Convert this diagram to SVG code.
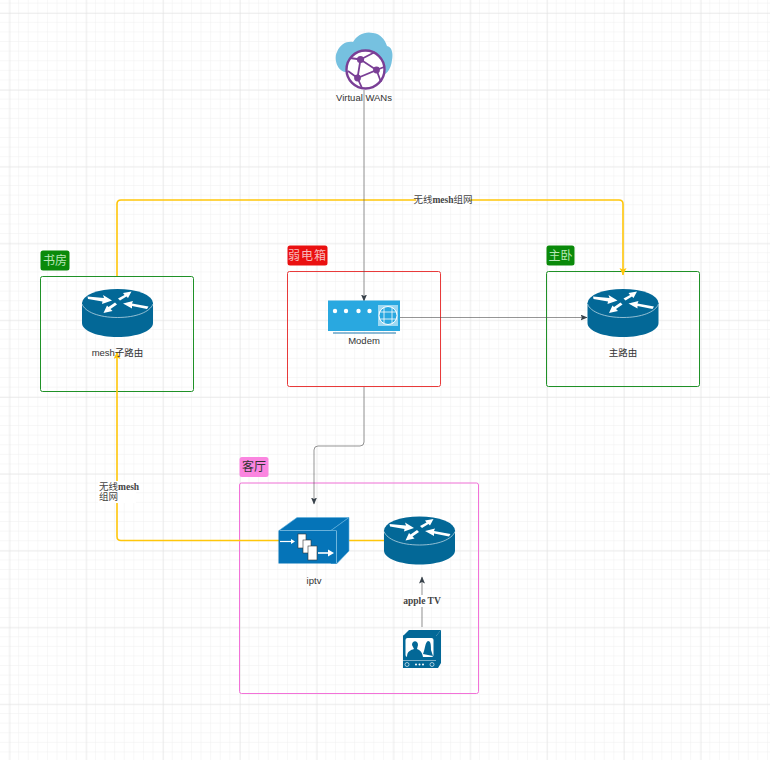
<svg xmlns="http://www.w3.org/2000/svg" width="770" height="760" viewBox="0 0 770 760">
<style>
.t{font-family:"Liberation Sans","Noto Sans CJK SC",sans-serif;font-size:9.5px;fill:#333;text-anchor:middle}
.e{font-family:"Liberation Serif","Noto Sans CJK SC",serif;font-size:9.5px;fill:#444}
.b{font-family:"Liberation Serif","Noto Sans CJK SC",serif;font-size:12px;text-anchor:middle}
.c{fill:none;stroke:#4d4d4d;stroke-width:.6}
.y{fill:none;stroke:#ffc60a;stroke-width:1.6}
.w{fill:#fff}
.g{fill:#fff;stroke:#fff}
</style>
<defs>
<pattern id="minor" width="9.6" height="9.6" patternUnits="userSpaceOnUse" x="-0.1" y="3.6"><path d="M9.6 0V9.6M0 9.6H9.6" fill="none" stroke="#f0f0f0" stroke-width="1"/></pattern>
<pattern id="major" width="76.8" height="76.8" patternUnits="userSpaceOnUse" x="9.5" y="13"><path d="M0 0V76.8M0 0H76.8" fill="none" stroke="#e2e2e2" stroke-width="1"/></pattern>
<marker id="ag" markerWidth="8" markerHeight="8" refX="6.5" refY="3" orient="auto" markerUnits="userSpaceOnUse"><path d="M0 0L7 3L0 6L1.4 3Z" fill="#37414a"/></marker>
<marker id="ay" markerWidth="12" markerHeight="12" refX="7" refY="3.5" orient="auto" markerUnits="userSpaceOnUse"><path d="M0 0L7 3.5L0 7L1.6 3.5Z" fill="#ffc60a"/></marker>
<g id="router">
<path d="M0 14V34C0 42 16 48 35.5 48S71 42 71 34V14Z" fill="#036897"/>
<ellipse cx="35.5" cy="14" rx="35.5" ry="14" fill="#036897"/>
<path d="M0 15C3 23 17 28.500 35.500 28.500S68 23 71 15" fill="none" stroke="#b8d4e2" stroke-width=".8"/>
<path class="w" d="M5.500 7.500L22 9L21 6L30 11.500L20 15L20.500 12.500L6 10Z"/>
<path class="w" d="M36 9.500L42.500 6L41 4L49.500 2.500L46 9L44.500 7.500L38 11.500Z"/>
<path class="w" d="M66.500 17.500L50 14.500L51 12L41 14.500L50 19.500L50 17L65 20Z"/>
<path class="w" d="M35 15.500L28.500 20L30.500 22L21.500 24L25 16.500L26.500 18L33 13.500Z"/>
</g>
</defs>
<rect width="770" height="760" fill="#fff"/>
<rect width="770" height="760" fill="url(#minor)"/>
<rect width="770" height="760" fill="url(#major)"/>

<g id="containers">
<g id="study-box"><rect x="40.500" y="276.500" width="153" height="115" rx="2" fill="none" stroke="#1f9127"/><rect x="40.500" y="250.500" width="29" height="20" rx="2.500" fill="#0a8a0a"/><text class="b" x="55" y="265" fill="#b8e6b8">书房</text></g>
<g id="closet-box"><rect x="287.500" y="271.500" width="153" height="115" rx="2" fill="none" stroke="#e83a3a"/><rect x="287.500" y="245.500" width="40" height="20" rx="2.500" fill="#ea1010"/><text class="b" x="307.500" y="260" fill="#f7bcbc" letter-spacing="1">弱电箱</text></g>
<g id="master-box"><rect x="546.500" y="271.500" width="153" height="115" rx="2" fill="none" stroke="#1f9127"/><rect x="546.500" y="245.500" width="28" height="20" rx="2.500" fill="#0a8a0a"/><text class="b" x="560.500" y="260" fill="#b8e6b8">主卧</text></g>
<g id="living-box"><rect x="239.500" y="483" width="239" height="210.500" rx="2" fill="none" stroke="#f272d8"/><rect x="239.500" y="457" width="29" height="20" rx="2.500" fill="#fb85e0"/><text class="b" x="254" y="471" fill="#333">客厅</text></g>
</g>

<g id="connectors">
<path class="y" d="M117 276V204Q117 200 121 200H619Q623 200 623 204V275" marker-end="url(#ay)"/>
<path class="y" d="M385 540.500H121Q117 540.500 117 536.500V352" marker-end="url(#ay)"/>
<path class="c" d="M364 90V301" marker-end="url(#ag)"/>
<path class="c" d="M400 317.500H587" marker-end="url(#ag)"/>
<path class="c" d="M364 387V442Q364 446 360 446H318Q314 446 314 450V504" marker-end="url(#ag)"/>
<path class="c" d="M422 627V577" marker-end="url(#ag)"/>
<rect x="416" y="194" width="54" height="12" fill="#fff"/>
<text class="e" x="443" y="203" text-anchor="middle">无线<tspan font-weight="bold">mesh</tspan>组网</text>
<rect x="98" y="481" width="38" height="22" fill="#fff"/>
<text class="e" x="99" y="490">无线<tspan font-weight="bold">mesh</tspan></text>
<text class="e" x="99" y="500">组网</text>
<rect x="404" y="595" width="36" height="12" fill="#fff"/>
<text class="e" x="422" y="604" text-anchor="middle" font-weight="bold">apple TV</text>
</g>

<g id="virtual-wans">
<path d="M345 72C336 70 334 57 337 52C340 44 347 41 353 42C357 35 365 31 373 33C381 34 385 40 387 46C393 47 393 56 392 60C391 70 386 75 380 76Z" fill="#76c1e0"/>
<circle cx="365.500" cy="69.500" r="19" fill="#fff" stroke="#7a3f96" stroke-width="2.400"/>
<path d="M360.500 59.500L376.500 70L357.500 78M360.500 59.500L357.500 78M360.500 59.500L375 52M360.500 59.500L350 58M376.500 70L381 82M376.500 70L384 67M357.500 78L362 88M357.500 78L348 71" fill="none" stroke="#7a3f96" stroke-width="1.800"/>
<circle cx="360.500" cy="59.500" r="3.600" fill="#7a3f96"/><circle cx="376.500" cy="70" r="3.400" fill="#7a3f96"/><circle cx="357.500" cy="78" r="3.400" fill="#7a3f96"/>
<text class="t" x="364" y="101">Virtual WANs</text>
</g>

<g id="mesh-router"><use href="#router" x="82" y="289"/><text class="t" x="117.500" y="356">mesh子路由</text></g>
<g id="main-router"><use href="#router" x="587.500" y="289"/><text class="t" x="623" y="356">主路由</text></g>
<g id="living-router"><use href="#router" x="384" y="516.500"/></g>

<g id="modem">
<rect x="328" y="300.500" width="72" height="30.500" fill="#29a8e0"/>
<circle cx="335" cy="311" r="2.200" class="w"/><circle cx="346" cy="311" r="2.200" class="w"/><circle cx="358.500" cy="311" r="2.200" class="w"/><circle cx="369.500" cy="311" r="2.200" class="w"/>
<rect x="378" y="305" width="20" height="21" fill="#9dd8f2"/>
<circle cx="388" cy="315.500" r="9" fill="#29a8e0" stroke="#fff" stroke-width="1"/>
<path d="M379 312H397M379 319H397M384 307V324M392 307V324" stroke="#fff" stroke-width=".8" fill="none"/>
<path d="M333 333H396" stroke="#1b76ab" stroke-width="1.200"/>
<text class="t" x="364" y="343.500">Modem</text>
</g>

<g id="iptv">
<path d="M279 530.500L297 517.500H349L331 530.500Z" fill="#0574b8" stroke="#5fb0dd" stroke-width=".6"/>
<path d="M331 530.500L349 517.500V551L337 563.500H331Z" fill="#0574b8" stroke="#5fb0dd" stroke-width=".6"/>
<rect x="278.500" y="530.500" width="58" height="33" fill="#0574b8"/>
<path d="M336.500 530.500V563" stroke="#8cc6e6" stroke-width=".8"/>
<path d="M280 530.500H336" stroke="#8cc6e6" stroke-width=".6"/>
<path d="M280 541.500H293" stroke="#fff" stroke-width="1.200"/><path d="M291 539L295 541.500L291 544Z" class="w"/>
<rect x="298" y="534" width="8" height="14" fill="#fff" stroke="#333" stroke-width=".6"/>
<rect x="303" y="540" width="8" height="13" fill="#fff" stroke="#333" stroke-width=".6"/>
<rect x="308" y="546" width="9" height="14" fill="#fff" stroke="#333" stroke-width=".6"/>
<path d="M318 553H331" stroke="#fff" stroke-width="1.600"/><path d="M328 549.500L334 553L328 556.500Z" class="w"/>
<text class="t" x="314" y="583.500">iptv</text>
</g>

<g id="apple-tv">
<path d="M403 636L409 630H441L436 636Z" fill="#036897"/>
<path d="M436 636L441 630V661L436 668Z" fill="#036897"/>
<rect x="403" y="635.500" width="33" height="25" fill="#036897"/>
<rect x="405.500" y="638" width="28" height="19" rx="2" fill="#fff"/>
<path d="M407 657C407 651 411 650 414 649L412 645C412 640 418 640 418 645L417 649C420 650 422 652 423 657Z" fill="#036897"/>
<path d="M423 654C425 650 425 642 428 641C431 641 431 646 431 650L433 656Z" fill="#036897"/>
<rect x="403" y="661" width="35" height="7" fill="#036897"/>
<path d="M438 661L441 658V663L438 668Z" fill="#036897"/>
<circle cx="407" cy="664.500" r="2" fill="none" stroke="#cfe3ee" stroke-width=".8"/><circle cx="432" cy="664.500" r="2" fill="none" stroke="#cfe3ee" stroke-width=".8"/>
<circle cx="416" cy="664.500" r="1" class="w"/><circle cx="419.500" cy="664.500" r="1" class="w"/><circle cx="423" cy="664.500" r="1" class="w"/>
</g>
</svg>
